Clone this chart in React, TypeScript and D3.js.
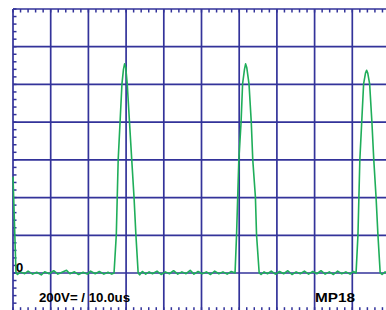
import React from "react";
import * as d3 from "d3";

// Time in microseconds, voltage in volts (200 V/div, 10 us/div)
const xTicks = [0, 10, 20, 30, 40, 50, 60, 70, 80, 90, 100];
const yTicks = [-200, 0, 200, 400, 600, 800, 1000, 1200, 1400];

const segStart = [
  [0, 510], [0.3, 320], [0.8, 0],
];
const baseline1 = [
  [1.2, -8], [2.0, 6], [3.1, -4], [4.0, 10], [5.2, -6], [6.3, 4], [7.5, -10], [8.4, 6],
  [9.6, -4], [10.8, 12], [11.9, -6], [13.0, 4], [14.2, 14], [15.1, -4], [16.3, 6],
  [17.4, -8], [18.6, 4], [19.7, -6], [20.6, 10], [21.8, -4], [22.9, 8], [24.1, -6],
  [25.2, 4], [26.2, -6], [26.8, 0],
];
const pulse1 = [
  [27.4, 202], [27.9, 600], [28.4, 801], [28.9, 1003], [29.3, 1080], [29.6, 1109],
  [29.9, 1090], [30.3, 1003], [30.9, 801], [31.5, 600], [32.1, 403], [32.6, 202], [33.2, 0],
];
const baseline2 = [
  [33.6, -10], [34.3, 8], [35.2, -6], [36.1, 6], [37.0, -4], [38.2, 10], [39.3, -8],
  [40.4, 6], [41.5, -4], [42.6, 12], [43.7, -6], [44.8, 6], [45.9, -4], [47.0, 14],
  [48.0, -6], [49.1, 8], [50.2, -4], [51.3, 6], [52.4, -8], [53.5, 10], [54.6, -4],
  [55.7, 6], [56.8, -6], [57.9, 8], [58.9, 0],
];
const pulse2 = [
  [59.3, 202], [59.9, 600], [60.5, 801], [60.9, 1003], [61.4, 1080], [61.7, 1109],
  [62.0, 1090], [62.6, 1003], [63.2, 801], [63.6, 600], [64.3, 403], [64.6, 202], [65.3, 0],
];
const baseline3 = [
  [65.8, -8], [66.6, 6], [67.5, -4], [68.5, 10], [69.6, -6], [70.7, 8], [71.8, -4],
  [72.9, 12], [74.0, -8], [75.1, 6], [76.2, -4], [77.3, 10], [78.4, -6], [79.5, 8],
  [80.6, -4], [81.7, 12], [82.8, -6], [83.9, 6], [85.0, -8], [86.1, 10], [87.2, -4],
  [88.3, 6], [89.4, -6], [90.3, 8], [91.0, 0],
];
const pulse3 = [
  [91.5, 202], [92.0, 600], [92.5, 801], [93.0, 1003], [93.5, 1060], [93.8, 1075],
  [94.1, 1060], [94.6, 1003], [95.2, 801], [95.7, 600], [96.3, 403], [96.8, 202], [97.4, 0],
];
const baseline4 = [
  [97.9, -8], [98.7, 6], [99.5, -4], [100, 4],
];

const labelScale = "200V= / 10.0us";
const labelProbe = "MP18";
const labelZero = "0";

const W = 386;
const H = 310;

export default function App() {
  const x = d3.scaleLinear().domain([0, 100]).range([13, 390]);
  const y = d3.scaleLinear().domain([-200, 1400]).range([310.7, 9]);

  const data = [
    ...segStart, ...baseline1, ...pulse1, ...baseline2, ...pulse2,
    ...baseline3, ...pulse3, ...baseline4,
  ] as [number, number][];

  const line = d3
    .line<[number, number]>()
    .x((d) => x(d[0]))
    .y((d) => y(d[1]));

  const gridColor = "#33339a";
  const minorX = d3.range(0, 100.01, 2);
  const minorY = d3.range(-200, 1400.01, 40);
  const font = "Liberation Sans, Arial, sans-serif";

  return (
    <svg
      width={W}
      height={H}
      style={{ position: "fixed", left: 0, top: 0, background: "#fff" }}
    >
      <rect x={0} y={0} width={W} height={H} fill="#fff" />
      {xTicks.map((t) => (
        <line
          key={"vx" + t}
          x1={x(t)}
          x2={x(t)}
          y1={y(1400)}
          y2={y(-200)}
          stroke={gridColor}
          strokeWidth={1.7}
        />
      ))}
      {yTicks.filter((v) => v > -200).map((v) => (
        <line
          key={"hy" + v}
          x1={x(0)}
          x2={x(100)}
          y1={y(v)}
          y2={y(v)}
          stroke={gridColor}
          strokeWidth={1.7}
        />
      ))}
      {minorX.map((t) => (
        <g key={"mx" + t}>
          <line x1={x(t)} x2={x(t)} y1={y(1400)} y2={y(1400) + 3.5} stroke={gridColor} strokeWidth={1.5} />
          <line x1={x(t)} x2={x(t)} y1={y(-200)} y2={y(-200) - 3.5} stroke={gridColor} strokeWidth={1.5} />
        </g>
      ))}
      {minorY.map((v) => (
        <line key={"my" + v} x1={x(0)} x2={x(0) + 3.5} y1={y(v)} y2={y(v)} stroke={gridColor} strokeWidth={1.5} />
      ))}
      <path d={line(data) ?? ""} fill="none" stroke="#1fae5a" strokeWidth={1.6} strokeLinejoin="round" />
      <text x={16} y={y(0) - 0.5} fontFamily={font} fontWeight="bold" fontSize={13} fill="#000">
        {labelZero}
      </text>
      <text
        x={39}
        y={302}
        fontFamily={font}
        fontWeight="bold"
        fontSize={12.5}
        textLength={91}
        lengthAdjust="spacingAndGlyphs"
        fill="#000"
      >
        {labelScale}
      </text>
      <text
        x={315}
        y={302}
        fontFamily={font}
        fontWeight="bold"
        fontSize={12.5}
        textLength={40}
        lengthAdjust="spacingAndGlyphs"
        fill="#000"
      >
        {labelProbe}
      </text>
    </svg>
  );
}
